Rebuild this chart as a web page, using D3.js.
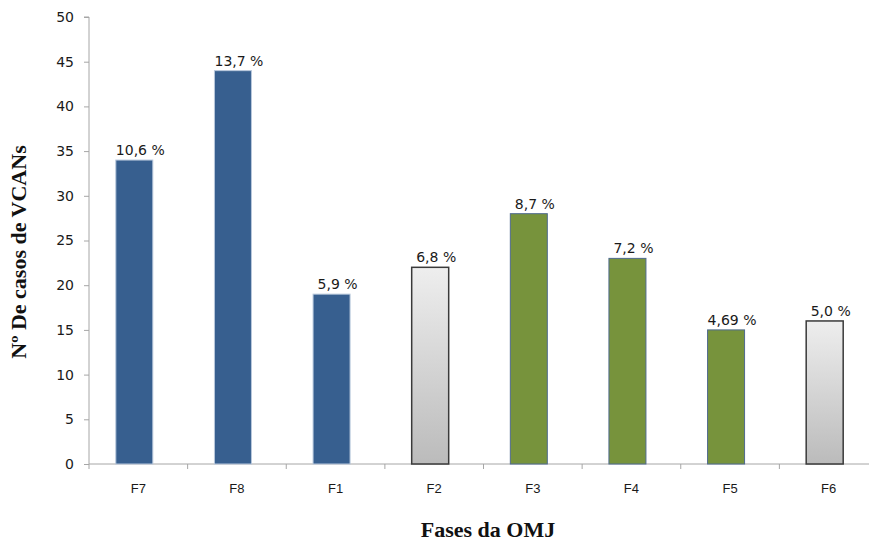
<!DOCTYPE html>
<html>
<head>
<meta charset="utf-8">
<script src="https://cdn.jsdelivr.net/npm/d3@7"></script>
<style>
  html, body { margin: 0; padding: 0; background: #fff; }
  svg { display: block; }
</style>
</head>
<body>
<svg id="chart" width="869" height="541"></svg>
<script>
const categories = ["F7", "F8", "F1", "F2", "F3", "F4", "F5", "F6"];
const values = [34, 44, 19, 22, 28, 23, 15, 16];
const percentLabels = ["10,6 %", "13,7 %", "5,9 %", "6,8 %", "8,7 %", "7,2 %", "4,69 %", "5,0 %"];
const groups = ["blue", "blue", "blue", "gray", "green", "green", "green", "gray"];
const yTicks = [0, 5, 10, 15, 20, 25, 30, 35, 40, 45, 50];

const svg = d3.select("#chart");
const mLeft = 89, mRight = 878, mTop = 17, mBottom = 464;

const x = d3.scaleBand().domain(categories).range([mLeft, mRight]).paddingInner(0).paddingOuter(0);
const y = d3.scaleLinear().domain([0, 50]).range([mBottom, mTop]);

const defs = svg.append("defs");
const grad = defs.append("linearGradient").attr("id", "grayGrad")
  .attr("x1", 0).attr("y1", 0).attr("x2", 0).attr("y2", 1);
grad.append("stop").attr("offset", "0%").attr("stop-color", "#EEEEEE");
grad.append("stop").attr("offset", "100%").attr("stop-color", "#BBBBBB");

const styles = {
  blue: { fill: "#375F8F", stroke: "#B9C8DC", sw: 1 },
  green: { fill: "#77933C", stroke: "#4F6A8E", sw: 1 },
  gray: { fill: "url(#grayGrad)", stroke: "#3A3A3A", sw: 1.5 }
};

const barW = 37;
const barOffset = -4;

// axes
const yAxis = d3.axisLeft(y).tickValues(yTicks).tickSize(5).tickPadding(10);
const gy = svg.append("g").attr("transform", `translate(${mLeft},0)`).call(yAxis);
gy.select(".domain").attr("stroke", "#A6A6A6").attr("d", `M-5,${mTop}H0V${mBottom}`);
gy.selectAll(".tick line").attr("stroke", "#A6A6A6");
gy.selectAll(".tick text").attr("font-family", "DejaVu Sans, Verdana, sans-serif")
  .attr("font-size", 14).attr("fill", "#1a1a1a");

const xAxis = d3.axisBottom(x).tickSize(0).tickPadding(20);
const gx = svg.append("g").attr("transform", `translate(0,${mBottom})`).call(xAxis);
gx.select(".domain").attr("stroke", "#A6A6A6").attr("d", `M${mLeft},0H${mRight}`);
gx.selectAll(".tick text").attr("font-family", "Liberation Sans, Arial, sans-serif")
  .attr("font-size", 13).attr("fill", "#1a1a1a");
// boundary tick marks
const boundaries = categories.map(c => x(c)).concat([mRight]);
gx.selectAll(".bound").data(boundaries).enter().append("line")
  .attr("class", "bound")
  .attr("x1", d => d).attr("x2", d => d).attr("y1", 0).attr("y2", 5)
  .attr("stroke", "#A6A6A6");

// bars
const data = categories.map((c, i) => ({ c, v: values[i], lab: percentLabels[i], g: groups[i] }));
svg.append("g").selectAll("rect").data(data).enter().append("rect")
  .attr("x", d => x(d.c) + x.bandwidth() / 2 - barW / 2 + barOffset)
  .attr("y", d => y(d.v))
  .attr("width", barW)
  .attr("height", d => y(0) - y(d.v))
  .attr("fill", d => styles[d.g].fill)
  .attr("stroke", d => styles[d.g].stroke)
  .attr("stroke-width", d => styles[d.g].sw);

// value labels
svg.append("g").selectAll("text").data(data).enter().append("text")
  .attr("x", d => x(d.c) + x.bandwidth() / 2 + 2)
  .attr("y", d => y(d.v) - 5)
  .attr("text-anchor", "middle")
  .attr("font-family", "DejaVu Sans, Verdana, sans-serif")
  .attr("font-size", 14)
  .attr("fill", "#1a1a1a")
  .text(d => d.lab);

// axis titles
svg.append("text")
  .attr("transform", `translate(26,252) rotate(-90)`)
  .attr("text-anchor", "middle")
  .attr("font-family", "Liberation Serif, Times New Roman, serif")
  .attr("font-weight", "bold")
  .attr("font-size", 22)
  .attr("fill", "#111")
  .text("Nº De casos de VCANs");

svg.append("text")
  .attr("x", 488).attr("y", 537)
  .attr("text-anchor", "middle")
  .attr("font-family", "Liberation Serif, Times New Roman, serif")
  .attr("font-weight", "bold")
  .attr("font-size", 22)
  .attr("fill", "#111")
  .text("Fases da OMJ");
</script>
</body>
</html>
